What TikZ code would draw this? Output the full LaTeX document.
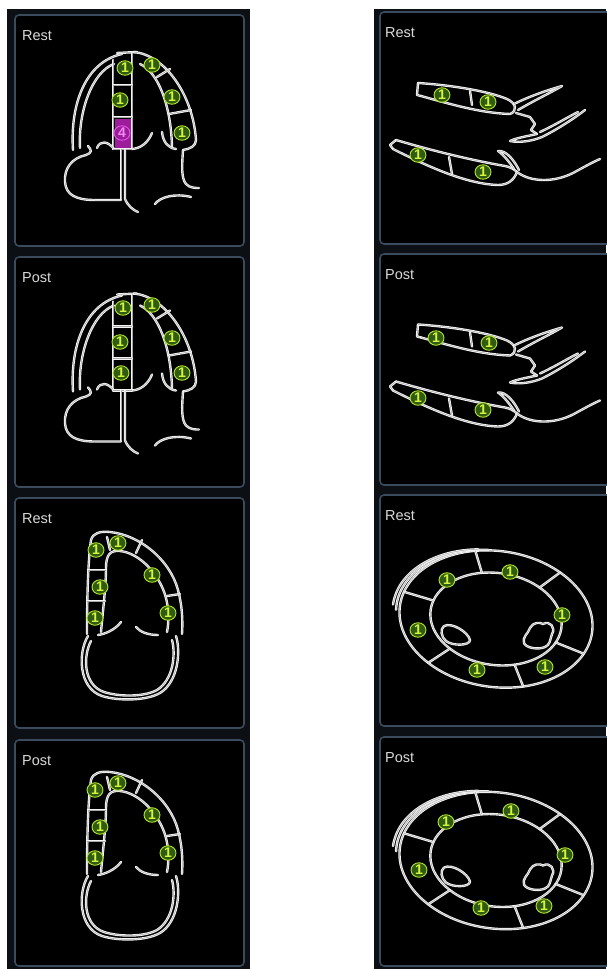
\documentclass[tikz,border=0pt]{standalone}
\usepackage{fontspec}
\setmainfont{Liberation Sans}
\usetikzlibrary{shapes.geometric}

\definecolor{stripbg}{HTML}{0C1014}
\definecolor{panelrim}{HTML}{3A4B5D}
\definecolor{segfill}{HTML}{2F5C12}
\definecolor{segline}{HTML}{B8E82A}
\definecolor{segtext}{HTML}{D6F53C}
\definecolor{magfill}{HTML}{9C1C9C}
\definecolor{magline}{HTML}{E855E8}
\definecolor{captiongray}{HTML}{DADADA}
\definecolor{wallwhite}{HTML}{F4F4F4}
\definecolor{wallcore}{HTML}{A8A8A8}

\tikzset{
  wall/.style={draw=wallwhite, line width=0.95pt, double=wallcore, double distance=0.5pt,
    line cap=round, line join=round},
  panelbox/.style={fill=black, draw=panelrim, line width=1.6pt, rounded corners=4pt},
  caption/.style={anchor=base west, inner sep=0pt, text=captiongray,
    font=\fontsize{14.5}{16}\selectfont},
  seg/.style={ellipse, draw=segline, fill=segfill, line width=0.9pt, inner sep=0pt,
    minimum width=16pt, minimum height=14.5pt, text=segtext,
    font=\fontsize{14}{14}\selectfont\bfseries},
  segbad/.style={seg, draw=magline, fill=magfill, text=magline!70!white},
  % apical four-chamber outline
  pics/fourch/.style={code={
    \draw[wall] (73,150) .. controls (70,105) and (85,62) .. (122,54);
    \draw[wall] (80,148) .. controls (78,112) and (92,72) .. (114,64);
    \draw[wall] (117,53) -- (137,52);
    \draw[wall] (113,60) -- (113,149);
    \draw[wall] (132,53) -- (132,149);
    \draw[wall] (113,85) -- (132,85) (113,117) -- (132,117);
    \draw[wall] (134,52) .. controls (165,55) and (193,95) .. (196,140)
      .. controls (196,146) and (190,149) .. (183,150);
    \draw[wall] (140,64) .. controls (158,72) and (171,105) .. (172,147);
    \draw[wall] (157,77) -- (170,69) (169,114) -- (191,110);
    \draw[wall] (97,148) .. controls (100,140) and (108,141) .. (114,149);
    \draw[wall] (131,149) .. controls (140,149) and (148,143) .. (152,133);
    \draw[wall] (162,132) .. controls (163,142) and (168,148) .. (176,149);
    \draw[wall] (113,149) -- (132,149);
    \draw[wall] (121,149) -- (121,199);
    \draw[wall] (125,149) -- (125,199) .. controls (128,206) and (133,210) .. (138,212);
    \draw[wall] (88,146) .. controls (92,150) and (92,153) .. (86,155)
      .. controls (72,158) and (64,168) .. (65,182)
      .. controls (66,195) and (76,200) .. (95,200) -- (121,200);
    \draw[wall] (183,150) .. controls (182,165) and (181,178) .. (186,184)
      .. controls (190,188) and (195,188) .. (199,188);
    \draw[wall] (155,204) .. controls (160,197) and (175,193) .. (191,197);
  }},
  % apical two-chamber outline
  pics/twoch/.style={code={
    \draw[wall] (87,634) .. controls (87,600) and (88,560) .. (91,540)
      .. controls (93,533) and (100,531) .. (110,532)
      .. controls (140,535) and (170,560) .. (178,590)
      .. controls (182,605) and (183,620) .. (182,634);
    \draw[wall] (101,632) .. controls (103,610) and (106,585) .. (106,568)
      .. controls (106,555) and (110,550) .. (120,551)
      .. controls (140,553) and (160,575) .. (166,598)
      .. controls (169,610) and (169,622) .. (167,632);
    \draw[wall] (88,570) -- (106,570) (87,601) -- (105,601);
    \draw[wall] (107,537) -- (110,550);
    \draw[wall] (142,540) -- (136,553) (167,596) -- (180,594);
    \draw[wall] (98,635) .. controls (105,634) and (115,630) .. (121,622);
    \draw[wall] (136,627) .. controls (140,632) and (148,635) .. (158,635);
    \draw[wall] (88,636) .. controls (78,652) and (78,688) .. (102,696)
      .. controls (118,701) and (146,701) .. (160,693)
      .. controls (178,682) and (181,652) .. (176,636);
    \draw[wall] (91,641) .. controls (83,656) and (83,685) .. (104,692)
      .. controls (120,697) and (144,697) .. (157,690)
      .. controls (173,680) and (176,655) .. (172,640);
  }},
  % parasternal long-axis outline
  pics/longax/.style={code={
    \draw[wall] (418,83) -- (417,95) -- (421,96);
    \draw[wall] (418,83) .. controls (450,85) and (488,91) .. (507,99)
      .. controls (516,103) and (518,111) .. (510,114);
    \draw[wall] (421,96) .. controls (450,104) and (480,113) .. (510,114);
    \draw[wall] (470,91) -- (472,105);
    \draw[wall] (514,104) .. controls (530,96) and (548,90) .. (562,86)
      .. controls (552,92) and (535,100) .. (518,110);
    \draw[wall] (516,113) -- (530,117) -- (535,124) -- (531,130) -- (537,134);
    \draw[wall] (537,134) .. controls (528,136) and (516,138) .. (510,141)
      .. controls (520,143) and (532,141) .. (542,137)
      .. controls (556,130) and (572,120) .. (585,110);
    \draw[wall] (540,132) .. controls (555,125) and (568,117) .. (578,112);
    \draw[wall] (396,140) -- (390,145) -- (393,149);
    \draw[wall] (396,140) .. controls (430,150) and (470,160) .. (505,166)
      .. controls (510,167) and (514,169) .. (517,172);
    \draw[wall] (393,149) .. controls (425,165) and (465,184) .. (498,185)
      .. controls (508,185) and (514,180) .. (517,172);
    \draw[wall] (449,157) -- (452,174);
    \draw[wall] (519,170) .. controls (514,160) and (506,150) .. (498,151)
      .. controls (504,155) and (510,163) .. (514,169);
    \draw[wall] (517,172) .. controls (530,182) and (553,183) .. (573,173)
      .. controls (584,167) and (593,162) .. (600,159);
  }},
  % mid-ventricular short-axis outline
  pics/shortax/.style={code={
    \begin{scope}[shift={(496,619)}, rotate=-8]
      \draw[wall] (0,0) ellipse[x radius=97, y radius=68];
      \draw[wall] (0,0) ellipse[x radius=66, y radius=46];
      \draw[wall] (-3.5,0) ++(176:97 and 68)
        arc[start angle=176, end angle=262, x radius=97, y radius=68];
      \draw[wall] (-7,0) ++(180:97 and 68)
        arc[start angle=180, end angle=258, x radius=97, y radius=68];
      \foreach \a in {252,306,19,68,129,192}
        \draw[wall] (\a:66 and 46) -- (\a:97 and 68);
    \end{scope}
    \draw[wall] (444,626) .. controls (452,622) and (468,632) .. (470,640)
      .. controls (470,646) and (452,646) .. (446,641)
      .. controls (441,637) and (440,629) .. (444,626);
    \draw[wall] (530,628) .. controls (533,622) and (540,622) .. (543,624)
      .. controls (550,620) and (556,628) .. (552,634)
      .. controls (550,640) and (550,645) .. (545,647)
      .. controls (538,650) and (526,648) .. (524,643)
      .. controls (522,637) and (528,634) .. (530,628);
  }}
}

\begin{document}
\begin{tikzpicture}[x=1pt, y=-1pt]
  \useasboundingbox (0,0) rectangle (606,969);
  \fill[white] (0,0) rectangle (606,969);

  % dark backing strips of the two columns
  \fill[stripbg] (7,9) rectangle (250,969);
  \fill[stripbg] (374,9) rectangle (606,969);

  % left column panels
  \draw[panelbox] (15,15) rectangle (244,246);
  \draw[panelbox] (15,257) rectangle (244,487);
  \draw[panelbox] (15,498) rectangle (244,728);
  \draw[panelbox] (15,740) rectangle (244,966);
  % right column panels
  \draw[panelbox] (380,12) rectangle (615,244);
  \draw[panelbox] (380,254) rectangle (615,485);
  \draw[panelbox] (380,495) rectangle (615,726);
  \draw[panelbox] (380,737) rectangle (615,966);

  % panel captions
  \node[caption] (capL1) at (22,40) {Rest};
  \node[caption] (capL2) at (22,282) {Post};
  \node[caption] (capL3) at (22,523) {Rest};
  \node[caption] (capL4) at (22,765) {Post};
  \node[caption] (capR1) at (385,37) {Rest};
  \node[caption] (capR2) at (385,279) {Post};
  \node[caption] (capR3) at (385,520) {Rest};
  \node[caption] (capR4) at (385,762) {Post};

  % outlines
  \pic at (0,0) {fourch};
  \pic at (0,241.5) {fourch};
  \pic at (0,0) {twoch};
  \pic at (0,240) {twoch};
  \pic at (0,0) {longax};
  \pic at (0,241.5) {longax};
  \pic at (0,0) {shortax};
  \pic at (0,241.5) {shortax};

  % scored segment at rest (basal septum)
  \fill[magfill] (114.5,118.5) rectangle (130.5,147.5);

  % four-chamber scores, rest
  \node[seg] (a1) at (125,68) {1};
  \node[seg] (a2) at (152,65) {1};
  \node[seg] (a3) at (120,100) {1};
  \node[seg] (a4) at (172,97) {1};
  \node[segbad] (a5) at (122,133) {4};
  \node[seg] (a6) at (182,133) {1};
  % four-chamber scores, post
  \node[seg] (b1) at (123,308) {1};
  \node[seg] (b2) at (152,305) {1};
  \node[seg] (b3) at (120,342) {1};
  \node[seg] (b4) at (172,338) {1};
  \node[seg] (b5) at (121,373) {1};
  \node[seg] (b6) at (182,373) {1};
  % two-chamber scores, rest
  \node[seg] (c1) at (96,550) {1};
  \node[seg] (c2) at (118,543) {1};
  \node[seg] (c3) at (152,575) {1};
  \node[seg] (c4) at (100,587) {1};
  \node[seg] (c5) at (95,618) {1};
  \node[seg] (c6) at (168,613) {1};
  % two-chamber scores, post
  \node[seg] (d1) at (95,790) {1};
  \node[seg] (d2) at (118,783) {1};
  \node[seg] (d3) at (152,815) {1};
  \node[seg] (d4) at (100,827) {1};
  \node[seg] (d5) at (95,858) {1};
  \node[seg] (d6) at (168,853) {1};
  % long-axis scores, rest
  \node[seg] (e1) at (442,95) {1};
  \node[seg] (e2) at (488,102) {1};
  \node[seg] (e3) at (418,155) {1};
  \node[seg] (e4) at (483,172) {1};
  % long-axis scores, post
  \node[seg] (f1) at (436,338) {1};
  \node[seg] (f2) at (489,343) {1};
  \node[seg] (f3) at (418,398) {1};
  \node[seg] (f4) at (483,410) {1};
  % short-axis scores, rest
  \node[seg] (g1) at (447,580) {1};
  \node[seg] (g2) at (510,572) {1};
  \node[seg] (g3) at (562,615) {1};
  \node[seg] (g4) at (545,667) {1};
  \node[seg] (g5) at (477,670) {1};
  \node[seg] (g6) at (418,630) {1};
  % short-axis scores, post
  \node[seg] (h1) at (446,822) {1};
  \node[seg] (h2) at (511,811) {1};
  \node[seg] (h3) at (565,855) {1};
  \node[seg] (h4) at (544,906) {1};
  \node[seg] (h5) at (481,908) {1};
  \node[seg] (h6) at (419,870) {1};
\end{tikzpicture}
\end{document}
